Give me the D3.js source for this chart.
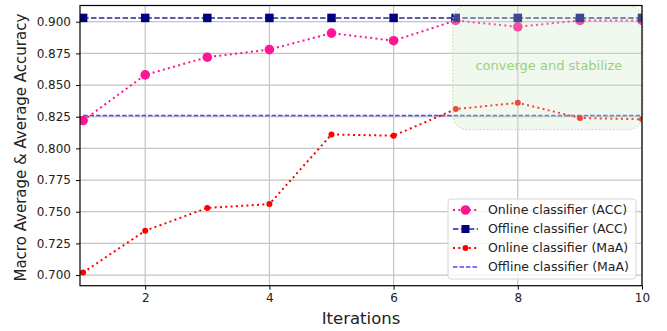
<!DOCTYPE html>
<html>
<head>
<meta charset="utf-8">
<script src="https://cdn.jsdelivr.net/npm/d3@7"></script>
<style>
    body { margin: 0; background: #fff; }
    text { font-family: "DejaVu Sans", sans-serif; fill: #222; }
</style>
</head>
<body>
<script>
//chart data
var iterations = [1, 2, 3, 4, 5, 6, 7, 8, 9, 10];
var onlineAcc = [0.822, 0.858, 0.872, 0.878, 0.891, 0.885, 0.901, 0.896, 0.901, 0.901];
var offlineAcc = [0.903, 0.903, 0.903, 0.903, 0.903, 0.903, 0.903, 0.903, 0.903, 0.903];
var onlineMaA = [0.702, 0.735, 0.753, 0.756, 0.811, 0.810, 0.831, 0.836, 0.824, 0.823];
var offlineMaA = [0.826, 0.826, 0.826, 0.826, 0.826, 0.826, 0.826, 0.826, 0.826, 0.826];
var xTicks = [2, 4, 6, 8, 10];
var yTicks = [0.700, 0.725, 0.750, 0.775, 0.800, 0.825, 0.850, 0.875, 0.900];
var legendLabels = ["Online classifier (ACC)", "Offline classifier (ACC)", "Online classifier (MaA)", "Offline classifier (MaA)"];
var noteText = "converge and stabilize";

window.onload = function(){

    var w = 667, h = 331;
    var left = 80, right = 642, top = 5.5, bottom = 285.7;

    var svg = d3.select("body")
        .append("svg")
        .attr("width", w)
        .attr("height", h);

    //scales
    var x = d3.scaleLinear()
        .domain([0.95, 10])
        .range([left, right]);

    var y = d3.scaleLinear()
        .domain([0.6916, 0.9128])
        .range([bottom, top]);

    //clip to plot area
    svg.append("clipPath")
        .attr("id", "plotClip")
        .append("rect")
        .attr("x", left)
        .attr("y", top)
        .attr("width", right - left)
        .attr("height", bottom - top);

    //grid lines
    svg.append("g")
        .selectAll("line")
        .data(xTicks)
        .enter()
        .append("line")
        .attr("x1", function(d){ return x(d); })
        .attr("x2", function(d){ return x(d); })
        .attr("y1", top)
        .attr("y2", bottom)
        .style("stroke", "#c4c4c4")
        .style("stroke-width", 1.2);

    svg.append("g")
        .selectAll("line")
        .data(yTicks)
        .enter()
        .append("line")
        .attr("x1", left)
        .attr("x2", right)
        .attr("y1", function(d){ return y(d); })
        .attr("y2", function(d){ return y(d); })
        .style("stroke", "#c4c4c4")
        .style("stroke-width", 1.2);

    //axes
    var xAxis = d3.axisBottom(x)
        .tickValues(xTicks)
        .tickFormat(d3.format("d"))
        .tickSize(4)
        .tickPadding(4);

    var yAxis = d3.axisLeft(y)
        .tickValues(yTicks)
        .tickFormat(d3.format(".3f"))
        .tickSize(4)
        .tickPadding(5);

    svg.append("g")
        .attr("transform", "translate(0," + bottom + ")")
        .call(xAxis)
        .call(function(g){ g.select(".domain").remove(); })
        .selectAll("text")
        .style("font-size", "12px")
        .style("font-family", "DejaVu Sans");

    svg.append("g")
        .attr("transform", "translate(" + left + ",0)")
        .call(yAxis)
        .call(function(g){ g.select(".domain").remove(); })
        .selectAll("text")
        .style("font-size", "12px")
        .style("font-family", "DejaVu Sans");

    //series definitions
    var series = [
        { values: offlineMaA, color: "#2a2aff", width: 1.5, dash: "4.5,2", opacity: 0.85, marker: "none" },
        { values: onlineMaA, color: "#ff0000", width: 2, dash: "2,3.3", opacity: 1, marker: "dot", size: 3 },
        { values: onlineAcc, color: "#ff1493", width: 2, dash: "2,3.3", opacity: 1, marker: "circle", size: 4.8 },
        { values: offlineAcc, color: "#000080", width: 1.5, dash: "5.5,2.4", opacity: 0.85, marker: "square", size: 8.5 }
    ];

    var plot = svg.append("g")
        .attr("clip-path", "url(#plotClip)");

    var line = d3.line()
        .x(function(d, i){ return x(iterations[i]); })
        .y(function(d){ return y(d); });

    series.forEach(function(s){
        plot.append("path")
            .datum(s.values)
            .attr("d", line)
            .style("fill", "none")
            .style("stroke", s.color)
            .style("stroke-width", s.width)
            .style("stroke-dasharray", s.dash)
            .style("opacity", s.opacity);

        if (s.marker == "square"){
            plot.selectAll(null)
                .data(s.values)
                .enter()
                .append("rect")
                .attr("x", function(d, i){ return x(iterations[i]) - s.size / 2; })
                .attr("y", function(d){ return y(d) - s.size / 2; })
                .attr("width", s.size)
                .attr("height", s.size)
                .style("fill", s.color);
        } else if (s.marker != "none"){
            plot.selectAll(null)
                .data(s.values)
                .enter()
                .append("circle")
                .attr("cx", function(d, i){ return x(iterations[i]); })
                .attr("cy", function(d){ return y(d); })
                .attr("r", s.size)
                .style("fill", s.color);
        }
    });

    //annotation box over the stable region (rounded, sits inside the frame)
    var boxX0 = x(7) - 3, boxX1 = right + 1;
    var boxY0 = top, boxY1 = y(0.8148);

    svg.append("rect")
        .attr("x", boxX0)
        .attr("y", boxY0)
        .attr("width", boxX1 - boxX0)
        .attr("height", boxY1 - boxY0)
        .attr("rx", 15)
        .style("fill", "#cfe8c4")
        .style("fill-opacity", 0.3)
        .style("stroke", "#bfe0b2")
        .style("stroke-width", 1.2)
        .style("stroke-dasharray", "1.5,2");

    svg.append("text")
        .attr("x", x(8.5))
        .attr("y", y(0.8615))
        .attr("text-anchor", "middle")
        .style("font-size", "13px")
        .style("fill", "#99d07f")
        .text(noteText);

    //plot frame
    svg.append("rect")
        .attr("x", left)
        .attr("y", top)
        .attr("width", right - left)
        .attr("height", bottom - top)
        .style("fill", "none")
        .style("stroke", "#000")
        .style("stroke-width", 1.2);

    //axis titles
    svg.append("text")
        .attr("x", (left + right) / 2)
        .attr("y", 324)
        .attr("text-anchor", "middle")
        .style("font-size", "16.5px")
        .text("Iterations");

    svg.append("text")
        .attr("transform", "translate(26," + ((top + bottom) / 2 + 2) + ") rotate(-90)")
        .attr("text-anchor", "middle")
        .style("font-size", "15px")
        .text("Macro Average & Average Accuracy");

    //legend
    var legend = svg.append("g")
        .attr("transform", "translate(448,199)");

    legend.append("rect")
        .attr("width", 188)
        .attr("height", 80)
        .attr("rx", 3)
        .style("fill", "#fff")
        .style("fill-opacity", 0.8)
        .style("stroke", "#d6d6d6");

    var legendSeries = [series[2], series[3], series[1], series[0]];

    var rows = legend.selectAll(".row")
        .data(legendSeries)
        .enter()
        .append("g")
        .attr("class", "row")
        .attr("transform", function(d, i){ return "translate(0," + (11 + i * 19) + ")"; });

    rows.append("line")
        .attr("x1", 5)
        .attr("x2", 30)
        .style("stroke", function(d){ return d.color; })
        .style("stroke-width", function(d){ return d.width; })
        .style("stroke-dasharray", function(d){ return d.dash; })
        .style("opacity", function(d){ return d.opacity; });

    rows.filter(function(d){ return d.marker == "circle" || d.marker == "dot"; })
        .append("circle")
        .attr("cx", 17.5)
        .attr("r", function(d){ return d.size; })
        .style("fill", function(d){ return d.color; });

    rows.filter(function(d){ return d.marker == "square"; })
        .append("rect")
        .attr("x", 17.5 - 4)
        .attr("y", -4)
        .attr("width", 8)
        .attr("height", 8)
        .style("fill", function(d){ return d.color; });

    rows.append("text")
        .attr("x", 40)
        .attr("dy", "0.35em")
        .style("font-size", "12.5px")
        .text(function(d, i){ return legendLabels[i]; });
};
</script>
</body>
</html>
